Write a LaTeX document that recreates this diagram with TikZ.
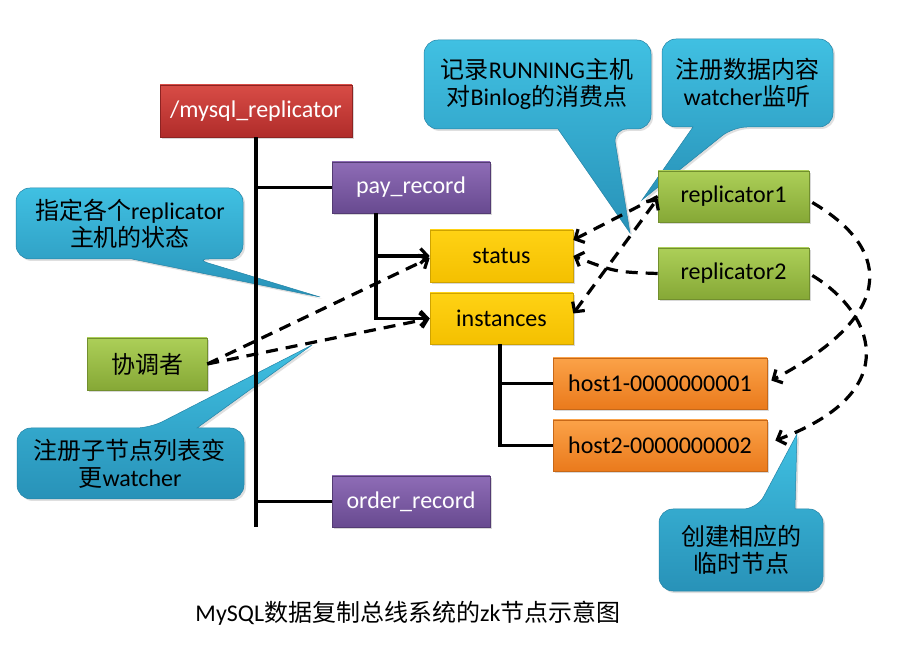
\documentclass[tikz,border=0pt]{standalone}
\usepackage{fontspec}
\setmainfont{Carlito}
\newfontfamily\cjk{Noto Sans CJK SC}
\usetikzlibrary{arrows.meta,shadows}
\definecolor{redT}{RGB}{216,76,70}
\definecolor{redB}{RGB}{176,44,42}
\definecolor{purT}{RGB}{142,108,182}
\definecolor{purB}{RGB}{104,74,144}
\definecolor{yelT}{RGB}{255,210,20}
\definecolor{yelB}{RGB}{244,192,0}
\definecolor{orgT}{RGB}{251,162,72}
\definecolor{orgB}{RGB}{234,122,28}
\definecolor{grnT}{RGB}{172,207,88}
\definecolor{grnB}{RGB}{134,168,54}
\definecolor{calT}{RGB}{64,192,226}
\definecolor{calB}{RGB}{40,146,184}
\tikzset{
  box/.style={line width=0.6pt, minimum height=51pt, inner sep=0pt,
    font=\fontsize{24}{26}\selectfont,
    drop shadow={opacity=0.3,shadow xshift=2pt,shadow yshift=-2pt}},
  redbox/.style={box, top color=redT, bottom color=redB, draw=redB!80!black, text=white},
  purbox/.style={box, top color=purT, bottom color=purB, draw=purB!80!black, text=white},
  yelbox/.style={box, top color=yelT, bottom color=yelB, draw=yelB!85!black, text=black},
  orgbox/.style={box, top color=orgT, bottom color=orgB, draw=orgB!85!black, text=black},
  grnbox/.style={box, top color=grnT, bottom color=grnB, draw=grnB!85!black, text=black},
  callout/.style={top color=calT, bottom color=calB, draw=calB!90!black, line width=0.5pt,
    drop shadow={opacity=0.25,shadow xshift=2pt,shadow yshift=-2pt}},
  calltext/.style={align=center, font=\fontsize{24}{27.5}\selectfont, text=black, inner sep=0pt},
  tree/.style={line width=3.2pt, line join=miter},
  dashline/.style={line width=3.2pt, dash pattern=on 12pt off 8pt},
  tiphead/.style={-{Straight Barb[length=7pt,width=15pt]}},
  tipboth/.style={{Straight Barb[length=7pt,width=15pt]}-{Straight Barb[length=7pt,width=15pt]}}
}
\begin{document}
\begin{tikzpicture}[x=1pt,y=-1pt]
\fill[white] (0,0) rectangle (906,652);
\useasboundingbox (0,0) rectangle (906,652);

% callouts (behind everything)
\shade[callout] (130,188) [rounded corners=14pt] -- (243,188) -- (243,259) -- (195,259) [sharp corners] -- (320,297) -- (132,259) [rounded corners=14pt] -- (16,259) -- (16,188) -- cycle;
\shade[callout] (537,40) [rounded corners=14pt] -- (651,40) -- (651,129) -- (613,129) [sharp corners] -- (630,233) -- (558,129) [rounded corners=14pt] -- (424,129) -- (424,40) -- cycle;
\shade[callout] (747,39) [rounded corners=14pt] -- (833,39) -- (833,127) -- (733,127) [sharp corners] -- (642,200) -- (693,127) [rounded corners=14pt] -- (662,127) -- (662,39) -- cycle;
\shade[callout] (130,499) [rounded corners=14pt] -- (17,499) -- (17,428) -- (150,428) [sharp corners] -- (312,345) -- (197,428) [rounded corners=14pt] -- (244,428) -- (244,499) -- cycle;
\shade[callout] (741,591) [rounded corners=14pt] -- (659,591) -- (659,509) -- (757,509) [sharp corners] -- (797,434) -- (795,509) [rounded corners=14pt] -- (823,509) -- (823,591) -- cycle;

\node[calltext] (tA) at (130,224) {{\cjk 指定各个}replicator\\{\cjk 主机的状态}};
\node[calltext] (tB) at (537,84) {{\cjk 记录}RUNNING{\cjk 主机}\\{\cjk 对}Binlog{\cjk 的消费点}};
\node[calltext] (tC) at (747,83) {{\cjk 注册数据内容}\\watcher{\cjk 监听}};
\node[calltext] (tD) at (130,464) {{\cjk 注册子节点列表变}\\{\cjk 更}watcher};
\node[calltext] (tE) at (741,550) {{\cjk 创建相应的}\\{\cjk 临时节点}};

% boxes
\node[redbox, minimum width=192pt, minimum height=52pt] (root) at (256,111) {/mysql\_replicator};
\node[purbox, minimum width=158pt] (pay) at (411,187.5) {pay\_record};
\node[yelbox, minimum width=143pt, minimum height=52pt] (status) at (501.5,256) {status};
\node[yelbox, minimum width=143pt] (inst) at (501.5,318.5) {instances};
\node[orgbox, minimum width=214pt] (host1) at (660,383.5) {host1-0000000001};
\node[orgbox, minimum width=214pt] (host2) at (660,445.5) {host2-0000000002};
\node[purbox, minimum width=158pt] (order) at (411,501.5) {order\_record};
\node[grnbox, minimum width=120pt, minimum height=52pt] (coord) at (147,364) {\cjk 协调者};
\node[grnbox, minimum width=151pt] (rep1) at (733.5,196.5) {replicator1};
\node[grnbox, minimum width=151pt] (rep2) at (733.5,273.5) {replicator2};

% tree lines
\coordinate (trunkbot) at (256,527);
\draw[tree] (root.south) -- (trunkbot);
\draw[tree] (root.south |- pay.west) -- (pay.west);
\draw[tree] (root.south |- order.west) -- (order.west);
\coordinate (pb) at ([xshift=-35pt]pay.south);
\draw[tree, tiphead] (pb) -- (pb |- inst.west) -- (inst.west);
\draw[tree, tiphead] (pb |- status.west) -- (status.west);
\coordinate (ib) at ([xshift=-1.5pt]inst.south);
\draw[tree] (ib) -- (ib |- host2.west) -- (host2.west);
\draw[tree] (ib |- host1.west) -- (host1.west);

% dashed connectors
\draw[dashline, tiphead] (coord.east) -- ([yshift=-2pt]status.west);
\draw[dashline, tiphead] (coord.east) -- (inst.west);
\draw[dashline, tiphead] (rep1.west) -- ([yshift=16pt]status.east);
\draw[dashline, tipboth] ([yshift=5pt]inst.east) -- ([yshift=-2pt]rep1.west);
\draw[dashline, tiphead] (rep2.west) .. controls (615,272) .. (status.east);
\draw[dashline, tiphead] ([xshift=3pt,yshift=-6pt]rep1.east) .. controls (885,245) and (905,310) .. ([xshift=4pt,yshift=3pt]host1.east);
\draw[dashline, tiphead] ([xshift=3pt,yshift=-2pt]rep2.east) .. controls (870,310) and (910,390) .. ([xshift=8pt,yshift=5pt]host2.east);

% title
\node[font=\fontsize{24}{26}\selectfont] (title) at (408,613) {MySQL{\cjk 数据复制总线系统的}zk{\cjk 节点示意图}};
\end{tikzpicture}
\end{document}
